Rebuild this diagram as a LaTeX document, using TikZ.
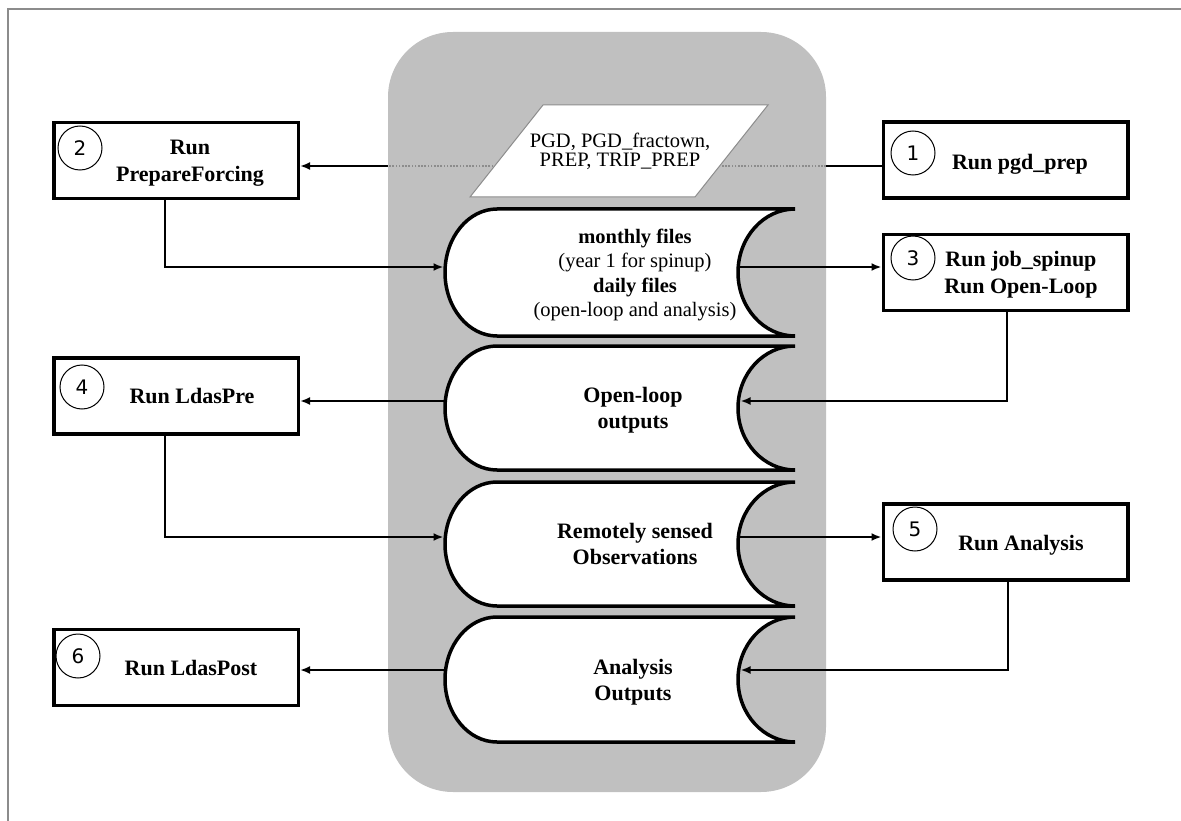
\documentclass[tikz,border=0pt]{standalone}
\usepackage{fontspec}
\setmainfont{Liberation Serif}
\newfontfamily\numfont{DejaVu Sans}
\usetikzlibrary{arrows.meta}
\definecolor{panelgray}{RGB}{192,192,192}
\definecolor{framegray}{RGB}{140,140,140}
\newcommand{\storedshape}[2]{%
  \draw[docline] (497,#1) -- (795,#1)
    arc[start angle=270, end angle=90, x radius=57, y radius={(#2-#1)/2}]
    -- (497,#2)
    arc[start angle=90, end angle=270, x radius=52, y radius={(#2-#1)/2}]
    -- cycle;}
\begin{document}
\begin{tikzpicture}[x=1pt,y=-1pt,
  stepbox/.style={draw, line width=3.5pt, fill=white, minimum width=244.5pt, minimum height=76pt, inner sep=0pt},
  numcirc/.style={draw, circle, line width=1pt, minimum size=44pt, inner sep=0pt, font=\numfont\fontsize{20}{24}\selectfont},
  boxtext/.style={align=center, font=\fontsize{22}{27}\selectfont\bfseries, inner sep=0pt},
  doctext/.style={align=center, font=\fontsize{20.5}{24.5}\selectfont, inner sep=0pt},
  docbold/.style={align=center, font=\fontsize{22}{26}\selectfont\bfseries, inner sep=0pt},
  paratext/.style={align=center, font=\fontsize{20.5}{19}\selectfont, inner sep=0pt},
  panel/.style={fill=panelgray, rounded corners=65pt, minimum width=438pt, minimum height=760pt, inner sep=0pt},
  conn/.style={line width=2pt, -{Latex[length=10pt,width=8pt]}},
  plainline/.style={line width=2pt},
  dotline/.style={line width=1.3pt, draw=framegray, dash pattern=on 1.6pt off 1.6pt},
  docline/.style={line width=3.5pt, fill=white},
  paraline/.style={draw=framegray, line width=1pt, fill=white},
]
\useasboundingbox (0,0) rectangle (1181,821);
\fill[white] (0,0) rectangle (1181,821);
\draw[framegray, line width=2pt] (8,821) -- (8,9) -- (1181,9);

% central panel
\node[panel] (panel) at (607,412) {};

% dotted line behind parallelogram
\coordinate (pR) at (826,166);
\coordinate (pL) at (388,166);
\draw[dotline] (pR) -- (pL);

% parallelogram
\draw[paraline] (543,105) -- (768,105) -- (695,197) -- (470,197) -- cycle;
\node[paratext] (ptxt) at (620,151) {PGD, PGD\_fractown,\\PREP, TRIP\_PREP};

% stored data shapes
\storedshape{209}{336}
\storedshape{346}{470}
\storedshape{482}{606}
\storedshape{617}{742}

\node[doctext] (d1t) at (635,275) {\textbf{monthly files}\\(year 1 for spinup)\\\textbf{daily files}\\(open-loop and analysis)};
\node[docbold] (d2t) at (633,410) {Open-loop\\outputs};
\node[docbold] (d3t) at (635,544) {Remotely sensed\\Observations};
\node[docbold] (d4t) at (633,682) {Analysis\\Outputs};

\coordinate (d1w) at (443.5,267);
\coordinate (d1e) at (739,267);
\coordinate (d2w) at (444,401);
\coordinate (d2e) at (740.5,401);
\coordinate (d3w) at (443.5,537);
\coordinate (d3e) at (739,537);
\coordinate (d4w) at (444,670);
\coordinate (d4e) at (740.5,670);

% step boxes
\node[stepbox] (b1) at (1005.5,160) {};
\node[stepbox] (b2) at (176,160.5) {};
\node[stepbox] (b3) at (1005.5,272.5) {};
\node[stepbox] (b4) at (176,396) {};
\node[stepbox] (b5) at (1005.5,542) {};
\node[stepbox] (b6) at (176,667.5) {};

\node[numcirc] (c1) at (913,153) {1};
\node[numcirc] (c2) at (80,148) {2};
\node[numcirc] (c3) at (913,258) {3};
\node[numcirc] (c4) at (82,387) {4};
\node[numcirc] (c5) at (915,529) {5};
\node[numcirc] (c6) at (78,656) {6};

\node[boxtext] (t1) at (1020,164) {Run pgd\_prep};
\node[boxtext] (t2) at (190,163.5) {Run\\PrepareForcing};
\node[boxtext] (t3) at (1021,275) {Run job\_spinup\\Run Open-Loop};
\node[boxtext] (t4) at (192,396.5) {Run LdasPre};
\node[boxtext] (t5) at (1021,545) {Run Analysis};
\node[boxtext] (t6) at (191,667.5) {Run LdasPost};

% connectors
\draw[plainline] (b1.west |- pR) -- (pR);
\draw[conn] (pL) -- (pL -| b2.east);
\draw[conn] ([xshift=-11pt]b2.south) |- (d1w);
\draw[conn] (d1e) -- (d1e -| b3.west);
\draw[conn] ([xshift=1.5pt]b3.south) |- (d2e);
\draw[conn] (d2w) -- (d2w -| b4.east);
\draw[conn] ([xshift=-11pt]b4.south) |- (d3w);
\draw[conn] (d3e) -- (d3e -| b5.west);
\draw[conn] ([xshift=2.5pt]b5.south) |- (d4e);
\draw[conn] (d4w) -- (d4w -| b6.east);
\end{tikzpicture}
\end{document}
